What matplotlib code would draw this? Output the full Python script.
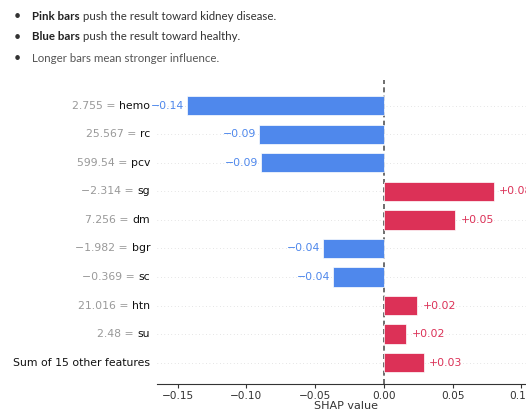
import numpy as np
import matplotlib
matplotlib.use("Agg")
import matplotlib.pyplot as plt

# SHAP contributions for one patient
feature_names = ["hemo", "rc", "pcv", "sg", "dm", "bgr", "sc", "htn", "su",
                 "Sum of 15 other features"]
feature_values = ["2.755", "25.567", "599.54", "\u22122.314", "7.256",
                  "\u22121.982", "\u22120.369", "21.016", "2.48", None]
shap_values = [-0.143, -0.091, -0.089, 0.080, 0.052, -0.044, -0.037, 0.024, 0.016, 0.029]
xticks = [-0.15, -0.10, -0.05, 0.00, 0.05, 0.10]

notes = [("Pink bars", " push the result toward kidney disease."),
         ("Blue bars", " push the result toward healthy."),
         ("", "Longer bars mean stronger influence.")]

blue = "#4f88ec"
red = "#dc3157"
fs = 7.8

fig = plt.figure(figsize=(5.26, 4.12), dpi=100)
ax = fig.add_axes([157 / 526, 28 / 412, 378 / 526, 304 / 412])

n = len(shap_values)
y = np.arange(n)[::-1]
colors = [red if v > 0 else blue for v in shap_values]

for yy in y:
    ax.axhline(yy, color="#cccccc", lw=0.5, dashes=(1, 4), zorder=0)
ax.barh(y, shap_values, height=0.68, color=colors, edgecolor="white", lw=0.5, zorder=2)
ax.axvline(0, color="#555555", lw=1.2, dashes=(3, 2), zorder=1)

for yy, v, c in zip(y, shap_values, colors):
    txt = f"{v:+.2f}".replace("-", "\u2212")
    if v > 0:
        ax.annotate(txt, (v, yy), xytext=(4, 0), textcoords="offset points",
                    ha="left", va="center", color=c, fontsize=fs)
    else:
        ax.annotate(txt, (v, yy), xytext=(-2, 0), textcoords="offset points",
                    ha="right", va="center", color=c, fontsize=fs)

ax.set_xlim(-0.165, 0.11)
ax.set_ylim(-0.75, n - 0.1)
ax.set_yticks([])
ax.set_xticks(xticks)
ax.set_xticklabels([f"{t:.2f}".replace("-", "\u2212") for t in xticks], fontsize=7.6, color="#333333")
ax.set_xlabel("SHAP value", fontsize=8, color="#333333", labelpad=0)
for s in ["left", "top", "right"]:
    ax.spines[s].set_visible(False)
ax.spines["bottom"].set_color("#333333")
ax.tick_params(axis="x", colors="#333333", length=3, pad=2)

fig.canvas.draw()
r = fig.canvas.get_renderer()
for yy, name, val in zip(y, feature_names, feature_values):
    t = ax.annotate(name, (0, yy), xycoords=("axes fraction", "data"),
                    xytext=(-5, 0), textcoords="offset points",
                    ha="right", va="center", fontsize=fs, color="#111111")
    if val is not None:
        w = t.get_window_extent(r).width * 72 / fig.dpi
        ax.annotate(val + " =", (0, yy), xycoords=("axes fraction", "data"),
                    xytext=(-5 - w - 2.5, 0), textcoords="offset points",
                    ha="right", va="center", fontsize=fs, color="#999999")

# bullet notes above the chart
top_font = "Lato"
for i, (bold, rest) in enumerate(notes):
    yf = 1 - (16 + 21 * i) / 412
    col = "#333333" if i < 2 else "#555555"
    fig.text(14 / 526, yf, "\u2022", fontsize=9, color="#333333", va="center", family=top_font)
    x0 = 32 / 526
    if bold:
        tb = fig.text(x0, yf, bold, fontsize=8.3, fontweight="bold", color="#222222",
                      va="center", family=top_font)
        x0 += tb.get_window_extent(r).width / fig.bbox.width
    fig.text(x0, yf, rest, fontsize=8.3, color=col, va="center", family=top_font)

fig.savefig("out.png", dpi=100)
